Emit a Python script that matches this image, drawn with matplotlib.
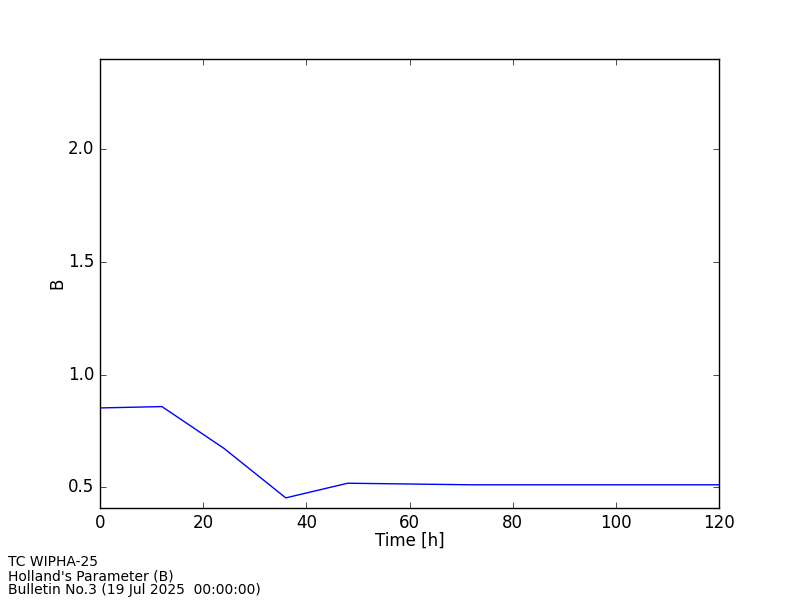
import matplotlib
matplotlib.use("Agg")
import matplotlib.pyplot as plt

# Holland B parameter forecast
hours = [0, 12, 24, 36, 48, 72, 96, 120]
b_values = [0.852, 0.858, 0.673, 0.453, 0.518, 0.511, 0.511, 0.511]

title_lines = ["TC WIPHA-25", "Holland's Parameter (B)",
               "Bulletin No.3 (19 Jul 2025  00:00:00)"]

plt.style.use("classic")

fig = plt.figure(figsize=(8, 6), dpi=100)
ax = fig.add_axes([0.125, 0.1533, 0.774, 0.7484])
ax.plot(hours, b_values, color="b")
ax.set_xlim(0, 120)
ax.set_ylim(0.408, 2.4)
ax.set_yticks([0.5, 1.0, 1.5, 2.0])
ax.set_xlabel("Time [h]", labelpad=0)
ax.set_ylabel("B", labelpad=1)

fig.text(0.01, 0.005, "\n".join(title_lines), fontsize=10, ha="left", va="bottom",
         linespacing=1.0)

fig.savefig("out.png", dpi=100, facecolor="white")
